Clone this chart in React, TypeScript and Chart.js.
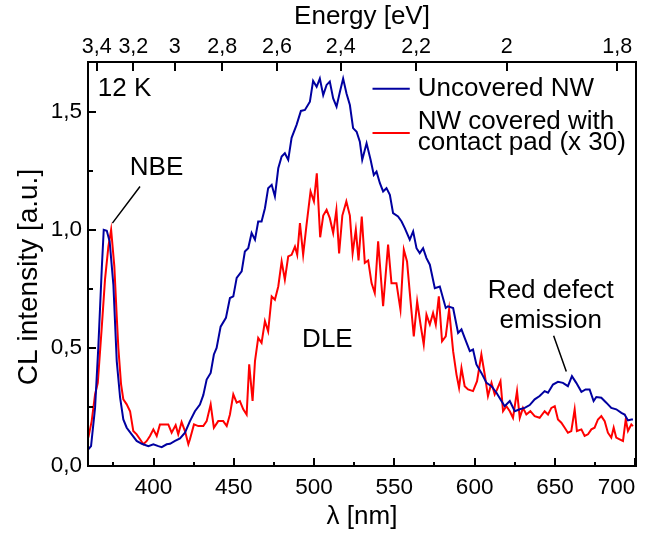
import React, { useEffect, useRef } from 'react';
import { Chart, registerables } from 'chart.js';

Chart.register(...registerables);

// ---------- data ----------
const blueX = [359.4, 361.1, 363.6, 365.6, 367.8, 369.0, 370.9, 372.7, 375.0, 377.1,
  379.2, 381.2, 383.3, 386.4, 389.5, 392.7, 396.8, 399.9, 403.0, 405.1,
  408.2, 410.3, 413.4, 416.5, 419.6, 422.7, 425.8, 428.9, 431.0, 433.1,
  435.6, 437.6, 439.3, 441.8, 445.1, 447.6, 449.7, 451.8, 454.9, 456.9,
  459.0, 461.1, 463.2, 465.2, 467.3, 469.4, 471.4, 473.6, 475.6, 477.7,
  479.8, 481.8, 483.9, 486.0, 489.1, 491.8, 494.3, 497.4, 499.4, 501.6,
  503.6, 505.7, 507.8, 509.8, 511.9, 514.0, 516.1, 518.1, 520.2, 522.3,
  524.3, 526.5, 528.5, 530.0, 532.7, 535.2, 537.2, 538.9, 541.0, 543.0,
  545.1, 547.2, 549.2, 552.3, 554.5, 556.5, 559.6, 561.7, 563.8, 565.8,
  567.9, 570.0, 572.1, 575.2, 578.3, 582.0, 583.4, 586.6, 589.7, 591.8,
  593.8, 597.0, 599.0, 601.1, 604.2, 607.4, 610.5, 613.6, 616.7, 618.7,
  621.9, 625.0, 628.1, 631.2, 634.3, 637.4, 640.5, 643.6, 645.7, 648.8,
  651.9, 655.0, 658.1, 660.6, 663.3, 666.5, 669.1, 671.6, 674.1, 675.8,
  678.9, 682.0, 685.1, 688.2, 691.4, 693.4, 695.5, 697.6, 698.6];
const blueY = [0.071, 0.084, 0.246, 0.50, 0.838, 1.0, 0.996, 0.95, 0.768, 0.444,
  0.289, 0.197, 0.162, 0.134, 0.106, 0.094, 0.084, 0.092, 0.084, 0.080,
  0.092, 0.094, 0.106, 0.117, 0.141, 0.19, 0.232, 0.26, 0.30, 0.366,
  0.394, 0.472, 0.50, 0.59, 0.627, 0.711, 0.718, 0.796, 0.824, 0.908,
  0.922, 0.986, 0.958, 1.035, 1.035, 1.091, 1.176, 1.19, 1.141, 1.26,
  1.31, 1.324, 1.296, 1.389, 1.444, 1.503, 1.507, 1.542, 1.63, 1.605,
  1.64, 1.57, 1.613, 1.627, 1.556, 1.521, 1.584, 1.64, 1.577, 1.528,
  1.43, 1.415, 1.373, 1.296, 1.366, 1.296, 1.232, 1.246, 1.197, 1.162,
  1.176, 1.148, 1.07, 1.056, 1.035, 1.007, 0.958, 0.993, 0.922, 0.901,
  0.922, 0.88, 0.852, 0.753, 0.76, 0.669, 0.676, 0.669, 0.563, 0.578,
  0.542, 0.486, 0.493, 0.43, 0.394, 0.352, 0.338, 0.31, 0.275, 0.253,
  0.275, 0.232, 0.24, 0.246, 0.258, 0.282, 0.296, 0.317, 0.31, 0.345,
  0.356, 0.352, 0.338, 0.38, 0.352, 0.314, 0.324, 0.324, 0.275, 0.292,
  0.289, 0.268, 0.246, 0.24, 0.225, 0.218, 0.193, 0.197, 0.197];

const redX = [359.4, 361.5, 363.6, 365.3, 367.8, 369.8, 371.9, 373.6, 375.6, 377.1,
  378.1, 379.8, 381.2, 383.3, 385.4, 387.4, 389.5, 391.6, 393.7, 395.8,
  397.8, 399.9, 402.0, 404.0, 407.2, 409.2, 411.3, 413.8, 415.4, 417.5,
  419.6, 421.7, 422.7, 425.2, 427.9, 431.0, 433.1, 435.6, 437.6, 440.3,
  443.4, 445.6, 447.6, 449.7, 451.8, 453.8, 455.9, 458.0, 459.6, 461.7,
  463.2, 465.2, 467.3, 469.4, 471.4, 473.6, 475.6, 477.7, 479.8, 481.8,
  483.9, 486.0, 488.1, 489.5, 491.2, 493.2, 495.3, 497.8, 499.9, 501.7,
  503.8, 505.7, 507.8, 509.8, 511.9, 513.9, 515.6, 517.6, 520.1, 522.3,
  524.0, 526.0, 527.7, 529.7, 531.6, 533.7, 535.8, 537.8, 539.9, 543.0,
  546.1, 548.2, 551.3, 553.8, 555.9, 557.9, 560.0, 562.1, 564.2, 566.3,
  568.3, 570.0, 572.1, 574.1, 575.8, 577.7, 579.7, 582.0, 584.1, 586.6,
  588.7, 590.3, 591.8, 593.8, 595.9, 599.0, 601.5, 604.2, 606.3, 608.3,
  610.5, 612.5, 614.0, 616.1, 617.7, 619.8, 621.9, 623.9, 626.4, 628.1,
  630.1, 632.2, 634.7, 637.4, 640.5, 643.6, 645.7, 647.8, 649.9, 651.9,
  654.0, 656.1, 658.1, 660.2, 662.3, 663.7, 666.5, 668.5, 670.6, 672.7,
  674.7, 676.8, 678.9, 681.0, 683.0, 685.1, 686.6, 688.2, 690.3, 692.4,
  694.1, 695.5, 697.6, 698.6];
const redY = [0.12, 0.19, 0.303, 0.352, 0.59, 0.79, 0.93, 1.0, 0.845, 0.633,
  0.50, 0.345, 0.282, 0.261, 0.232, 0.148, 0.134, 0.113, 0.092, 0.106,
  0.127, 0.155, 0.127, 0.176, 0.176, 0.176, 0.141, 0.173, 0.134, 0.186,
  0.148, 0.092, 0.113, 0.176, 0.169, 0.169, 0.19, 0.261, 0.162, 0.19,
  0.19, 0.169, 0.218, 0.303, 0.268, 0.275, 0.24, 0.218, 0.43, 0.275,
  0.444, 0.542, 0.521, 0.613, 0.57, 0.718, 0.704, 0.76, 0.866, 0.789,
  0.887, 0.894, 0.929, 0.894, 1.028, 0.894, 1.021, 1.162, 1.12, 1.239,
  0.968, 1.06, 1.084, 1.049, 0.986, 1.084, 0.90, 1.06, 1.12, 1.06,
  0.90, 1.0, 0.87, 1.056, 0.86, 0.87, 0.774, 0.732, 0.951, 0.676,
  0.937, 0.774, 0.774, 0.662, 0.916, 0.866, 0.704, 0.549, 0.697, 0.599,
  0.514, 0.641, 0.599, 0.648, 0.599, 0.718, 0.528, 0.549, 0.662, 0.486,
  0.387, 0.331, 0.415, 0.338, 0.324, 0.317, 0.359, 0.472, 0.387, 0.296,
  0.352, 0.303, 0.324, 0.359, 0.232, 0.253, 0.232, 0.204, 0.317, 0.204,
  0.246, 0.218, 0.232, 0.211, 0.204, 0.232, 0.218, 0.246, 0.253, 0.197,
  0.183, 0.162, 0.141, 0.148, 0.24, 0.148, 0.155, 0.127, 0.134, 0.155,
  0.162, 0.197, 0.211, 0.19, 0.141, 0.12, 0.162, 0.12, 0.113, 0.106,
  0.197, 0.148, 0.176, 0.169];

const seriesNames = [['Uncovered NW'], ['NW covered with', 'contact pad (x 30)']];
const seriesColors = ['#0000A0', '#FF0000'];

const xTicks = [375, 400, 425, 450, 475, 500, 525, 550, 575, 600, 625, 650, 675, 700];
const yTicks = [0, 0.25, 0.5, 0.75, 1.0, 1.25, 1.5];
const energyTicks = [3.4, 3.2, 3.0, 2.8, 2.6, 2.4, 2.2, 2.0, 1.8];
const HC = 1239.84; // eV*nm

const X_MIN = 359.2;
const X_MAX = 700.5;
const Y_MIN = 0;
const Y_MAX = 1.71;

const xTitle = 'λ [nm]';
const xTopTitle = 'Energy [eV]';
const yTitle = 'CL intensity [a.u.]';
const yTitleAt = 0.8; // data value where the y title is centred

// annotation texts with anchor positions in data units
const annotations = [
  { text: '12 K', x: 365.3, y: 1.597, align: 'left' },
  { text: 'NBE', x: 401.9, y: 1.26, align: 'center' },
  { text: 'DLE', x: 508.3, y: 0.535, align: 'center' },
  { text: 'Red defect', x: 647.4, y: 0.741, align: 'center' },
  { text: 'emission', x: 647.4, y: 0.615, align: 'center' },
];
const pointers = [
  { x1: 391.6, y1: 1.183, x2: 374.4, y2: 1.028 },
  { x1: 649.2, y1: 0.551, x2: 657.1, y2: 0.40 },
];
const legendLineX = [536.4, 559.6];
const legendTextX = 564.6;
const legendLineY = [1.597, 1.409];
const legendTextY = [[1.598], [1.458, 1.366]];

const FONT = '"Liberation Sans", Arial, sans-serif';

const framePlugin = {
  id: 'frameAndText',
  afterDraw(chart: any) {
    const { ctx, chartArea: a, scales } = chart;
    const xs = scales.x;
    const ys = scales.y;
    const xt = scales.xTop;
    ctx.save();
    ctx.strokeStyle = '#000';
    ctx.lineWidth = 2;
    ctx.lineCap = 'butt';
    ctx.strokeRect(a.left, a.top, a.right - a.left, a.bottom - a.top);
    ctx.beginPath();
    for (const t of xTicks) {
      const px = Math.round(xs.getPixelForValue(t));
      const len = t % 50 === 0 ? 8 : 4;
      ctx.moveTo(px, a.bottom);
      ctx.lineTo(px, a.bottom - len);
    }
    for (const t of yTicks) {
      const py = Math.round(ys.getPixelForValue(t));
      const major = Math.abs(t * 2 - Math.round(t * 2)) < 1e-6;
      ctx.moveTo(a.left, py);
      ctx.lineTo(a.left + (major ? 8 : 5), py);
    }
    for (const e of energyTicks) {
      const px = Math.round(xt.getPixelForValue(HC / e));
      ctx.moveTo(px, a.top);
      ctx.lineTo(px, a.top + 9);
    }
    ctx.stroke();

    // y axis title (rotated)
    ctx.fillStyle = '#000';
    ctx.save();
    ctx.translate(29, ys.getPixelForValue(yTitleAt));
    ctx.rotate(-Math.PI / 2);
    ctx.font = `28px ${FONT}`;
    ctx.textAlign = 'center';
    ctx.textBaseline = 'middle';
    ctx.fillText(yTitle, 0, 0);
    ctx.restore();

    // pointer lines
    ctx.lineWidth = 1.5;
    ctx.beginPath();
    for (const p of pointers) {
      ctx.moveTo(xs.getPixelForValue(p.x1), ys.getPixelForValue(p.y1));
      ctx.lineTo(xs.getPixelForValue(p.x2), ys.getPixelForValue(p.y2));
    }
    ctx.stroke();

    // annotations
    ctx.font = `26px ${FONT}`;
    ctx.textBaseline = 'middle';
    for (const an of annotations) {
      ctx.textAlign = an.align as CanvasTextAlign;
      ctx.fillText(an.text, xs.getPixelForValue(an.x), ys.getPixelForValue(an.y));
    }

    // legend
    ctx.lineWidth = 2;
    seriesNames.forEach((lines, i) => {
      const py = ys.getPixelForValue(legendLineY[i]);
      ctx.strokeStyle = seriesColors[i];
      ctx.beginPath();
      ctx.moveTo(xs.getPixelForValue(legendLineX[0]), py);
      ctx.lineTo(xs.getPixelForValue(legendLineX[1]), py);
      ctx.stroke();
      ctx.textAlign = 'left';
      lines.forEach((ln, j) => {
        ctx.fillText(ln, xs.getPixelForValue(legendTextX), ys.getPixelForValue(legendTextY[i][j]));
      });
    });
    ctx.restore();
  },
};

const fmtComma = (v: number, digits: number) => v.toFixed(digits).replace('.', ',');

export default function App() {
  const ref = useRef<HTMLCanvasElement | null>(null);
  useEffect(() => {
    document.body.style.margin = '0';
    const canvas = ref.current!;
    const tickFont = { family: FONT, size: 22.5 };
    const topTickFont = { family: FONT, size: 21.5 };
    const titleFont = { family: FONT, size: 26 };
    const chart = new Chart(canvas, {
      type: 'line',
      data: {
        datasets: [
          {
            label: seriesNames[0].join(' '),
            data: blueX.map((x, i) => ({ x, y: blueY[i] })),
            borderColor: seriesColors[0],
            borderWidth: 2,
            pointRadius: 0,
            tension: 0,
            fill: false,
          },
          {
            label: seriesNames[1].join(' '),
            data: redX.map((x, i) => ({ x, y: redY[i] })),
            borderColor: seriesColors[1],
            borderWidth: 2,
            pointRadius: 0,
            tension: 0,
            fill: false,
          },
        ],
      },
      options: {
        responsive: false,
        animation: false,
        events: [],
        layout: { padding: { left: 0, right: 9, top: 0, bottom: 0 } },
        plugins: { legend: { display: false }, tooltip: { enabled: false } },
        scales: {
          x: {
            type: 'linear',
            position: 'bottom',
            min: X_MIN,
            max: X_MAX,
            afterBuildTicks: (s: any) => { s.ticks = xTicks.map((v) => ({ value: v })); },
            afterFit: (s: any) => { s.height = 68; },
            grid: { display: false, drawTicks: false },
            border: { display: false },
            ticks: {
              font: tickFont,
              color: '#000',
              padding: 8,
              autoSkip: false,
              maxRotation: 0,
              minRotation: 0,
              align: 'inner',
              callback: (v: any) => (Number(v) % 50 === 0 ? String(v) : ''),
            },
            title: { display: true, text: xTitle, font: titleFont, color: '#000', padding: { top: 0, bottom: 2 } },
          },
          xTop: {
            type: 'linear',
            position: 'top',
            min: X_MIN,
            max: X_MAX,
            afterBuildTicks: (s: any) => { s.ticks = energyTicks.map((e) => ({ value: HC / e })); },
            afterFit: (s: any) => { s.height = 62; },
            grid: { display: false, drawTicks: false },
            border: { display: false },
            ticks: {
              font: topTickFont,
              color: '#000',
              padding: 2,
              autoSkip: false,
              maxRotation: 0,
              minRotation: 0,
              callback: (v: any) => {
                const e = Math.round((HC / Number(v)) * 10) / 10;
                return String(e).replace('.', ',');
              },
            },
            title: { display: true, text: xTopTitle, font: titleFont, color: '#000', padding: { top: 1, bottom: 0 } },
          },
          y: {
            type: 'linear',
            position: 'left',
            min: Y_MIN,
            max: Y_MAX,
            afterBuildTicks: (s: any) => { s.ticks = yTicks.map((v) => ({ value: v })); },
            afterFit: (s: any) => { s.width = 88; },
            grid: { display: false, drawTicks: false },
            border: { display: false },
            ticks: {
              font: tickFont,
              color: '#000',
              padding: 6,
              callback: (v: any) => {
                const n = Number(v);
                return Math.abs(n * 2 - Math.round(n * 2)) < 1e-6 ? fmtComma(n, 1) : '';
              },
            },
            title: { display: false, text: yTitle },
          },
        },
      } as any,
      plugins: [framePlugin],
    });
    return () => chart.destroy();
  }, []);
  return (
    <div style={{ width: 645, height: 534 }}>
      <canvas ref={ref} width={645} height={534} style={{ display: 'block', width: 645, height: 534 }} />
    </div>
  );
}
